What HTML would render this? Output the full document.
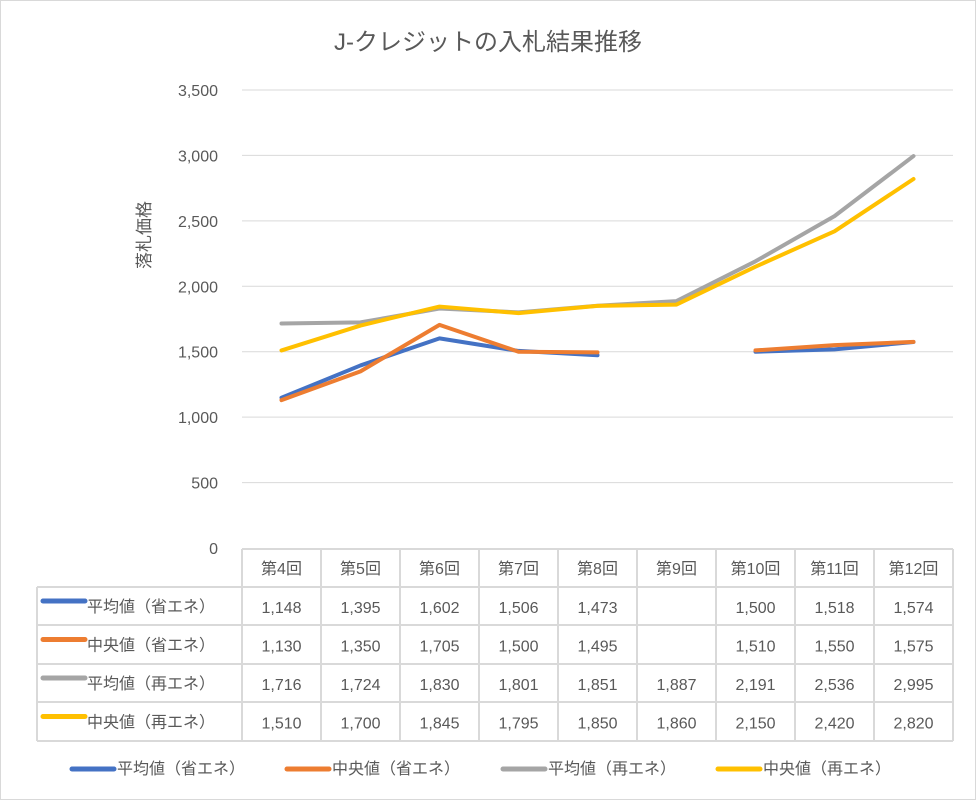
<!DOCTYPE html>
<html><head><meta charset="utf-8"><style>
body{margin:0;background:#fff;font-family:"Liberation Sans","Noto Sans CJK JP",sans-serif}
</style></head><body>
<svg id="c" width="977" height="801" xmlns="http://www.w3.org/2000/svg" font-family="Liberation Sans, Noto Sans CJK JP, sans-serif">
<rect x="0.5" y="0.5" width="975" height="799" fill="#fff" stroke="#d9d9d9"/>
<text x="488" y="50" text-anchor="middle" font-size="24" fill="#595959">J-クレジットの入札結果推移</text>
<text transform="translate(150,235) rotate(-90)" text-anchor="middle" font-size="17" fill="#595959">落札価格</text>
<g id="grid"></g><g id="table"></g><g id="lines"></g><g id="legend"></g>
</svg>
<script>
const categories=["第4回","第5回","第6回","第7回","第8回","第9回","第10回","第11回","第12回"];
const seriesNames=["平均値（省エネ）","中央値（省エネ）","平均値（再エネ）","中央値（再エネ）"];
const avgSho=[1148,1395,1602,1506,1473,null,1500,1518,1574];
const medSho=[1130,1350,1705,1500,1495,null,1510,1550,1575];
const avgSai=[1716,1724,1830,1801,1851,1887,2191,2536,2995];
const medSai=[1510,1700,1845,1795,1850,1860,2150,2420,2820];
const yTicks=[0,500,1000,1500,2000,2500,3000,3500];
const colors=["#4472c4","#ed7d31","#a5a5a5","#ffc000"];
const series=[avgSho,medSho,avgSai,medSai];
const NS="http://www.w3.org/2000/svg";
const x0=242,x1=953,y0=548,y1=90,cw=(x1-x0)/categories.length;
const xs=i=>x0+cw*(i+0.5);
const ys=v=>y0-(v/3500)*(y0-y1);
function mk(t,a,p){const e=document.createElementNS(NS,t);for(const k in a)e.setAttribute(k,a[k]);(p||document.getElementById('c')).appendChild(e);return e;}
const fmt=v=>v==null?"":v.toLocaleString('en-US');
const g=document.getElementById('grid');
yTicks.forEach(v=>{
 if(v>0){const l=mk('line',{x1:x0,x2:x1,y1:ys(v),y2:ys(v),stroke:'#d9d9d9','stroke-width':1},g);
 
 }
 const t=mk('text',{x:218,y:ys(v)+6,'text-anchor':'end','font-size':16,fill:'#595959'},g);t.textContent=fmt(v);
 
 
});
const tb=document.getElementById('table');
const rowY=[549,587,625,664,702,741];
const ln=(a,b,c,d)=>{const l=mk('line',{x1:a,y1:b,x2:c,y2:d,stroke:'#d9d9d9','stroke-width':2},tb);
 
 };
ln(x0,rowY[0],x1,rowY[0]);
for(let r=1;r<rowY.length;r++)ln(37,rowY[r],x1,rowY[r]);
ln(37,rowY[1],37,rowY[5]);
for(let i=0;i<=categories.length;i++)ln(x0+cw*i,rowY[0],x0+cw*i,rowY[5]);
categories.forEach((c,i)=>{const t=mk('text',{x:xs(i),y:rowY[0]+25,'text-anchor':'middle','font-size':16,fill:'#595959'},tb);t.textContent=c;
 
 });
series.forEach((s,r)=>{
 const cy=(rowY[r+1]+rowY[r+2])/2;
 const k=mk('line',{x1:43,x2:85,y1:cy-5,y2:cy-5,stroke:colors[r],'stroke-width':5,'stroke-linecap':'round'},tb);
 
 
 const n=mk('text',{x:87,y:cy+6,'font-size':16,fill:'#595959'},tb);n.textContent=seriesNames[r];
 
 
 s.forEach((v,i)=>{const t=mk('text',{x:xs(i),y:cy+7,'text-anchor':'middle','font-size':16,fill:'#595959'},tb);t.textContent=fmt(v);
  
  });
});
const lg=document.getElementById('lines');
series.forEach((s,r)=>{
 let d="",pen=false;
 s.forEach((v,i)=>{if(v==null){pen=false;return;}d+=(pen?"L":"M")+xs(i)+","+ys(v)+" ";pen=true;});
 const p=mk('path',{d:d,fill:'none',stroke:colors[r],'stroke-width':4,'stroke-linejoin':'round','stroke-linecap':'round'},lg);
 
 
});
const leg=document.getElementById('legend');
const lx=[72,287,503,718];
seriesNames.forEach((n,r)=>{
 const k=mk('line',{x1:lx[r],x2:lx[r]+42,y1:769,y2:769,stroke:colors[r],'stroke-width':5,'stroke-linecap':'round'},leg);
 
 
 const t=mk('text',{x:lx[r]+45,y:774,'font-size':16,fill:'#595959'},leg);t.textContent=n;
 
 
});
</script>
</body></html>
